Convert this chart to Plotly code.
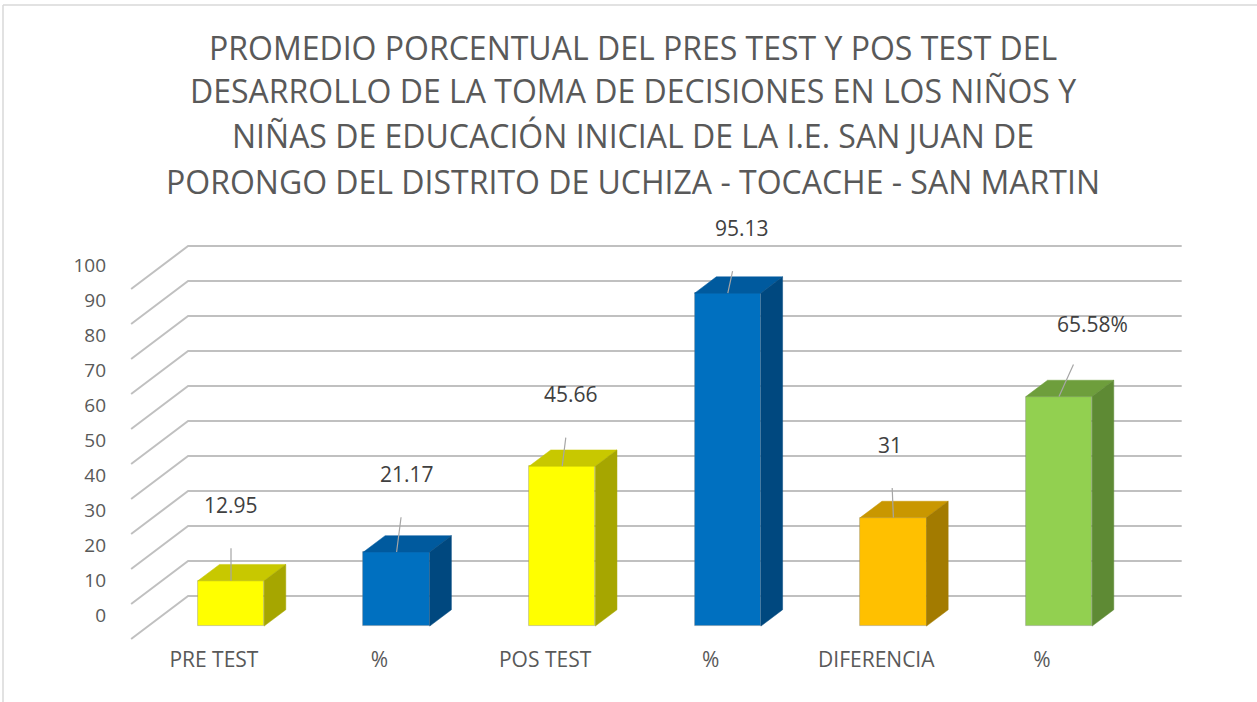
import plotly.graph_objects as go

# ---------------- data ----------------
categories = ["PRE TEST", "%", "POS TEST", "%", "DIFERENCIA", "%"]
values = [12.95, 21.17, 45.66, 95.13, 31, 65.58]
value_labels = ["12.95", "21.17", "45.66", "95.13", "31", "65.58%"]
y_ticks = [0, 10, 20, 30, 40, 50, 60, 70, 80, 90, 100]
title_lines = [
    "PROMEDIO PORCENTUAL DEL PRES TEST Y POS TEST DEL",
    "DESARROLLO DE LA TOMA DE DECISIONES EN LOS NIÑOS Y",
    "NIÑAS DE EDUCACIÓN INICIAL DE LA I.E. SAN JUAN DE",
    "PORONGO DEL DISTRITO DE UCHIZA - TOCACHE - SAN MARTIN",
]

# ---------------- styles ----------------
front_colors = ["#FFFF00", "#0070C0", "#FFFF00", "#0070C0", "#FFC000", "#92D050"]
top_colors = ["#C8C800", "#005A9E", "#C8C800", "#005A9E", "#C99700", "#6E9E3C"]
side_colors = ["#A6A600", "#00487F", "#A6A600", "#00487F", "#A37B00", "#5E8A34"]
label_offsets = [(0, -76), (10, -78), (9, -72), (14, -65), (-3, -73), (33, -73)]

FONT = "Open Sans"
W, H = 1257, 702
MB = 57
PH = H - MB
PX_PER_CAT = 165.6
PX_PER_UNIT = 3.5
X0_PX = 213.9
Y0_PX = 639.0
DX = 57.0 / PX_PER_CAT      # full floor depth, x (category units)
DY = 43.0 / PX_PER_UNIT     # full floor depth, y (value units)
D_FRONT = 0.30              # bar front face depth fraction
D_BAR = 0.38                # bar depth fraction
BAR_W = 0.40

n = len(categories)
xs = list(range(n))

fig = go.Figure()

# back wall gridlines + left wall diagonals (as shapes below traces)
shapes = []
for v in y_ticks:
    path = (f"M {-0.5} {v} L {-0.5 + DX} {v + DY} "
            f"L {n - 0.5 + DX} {v + DY}")
    shapes.append(dict(type="path", path=path, xref="x", yref="y",
                       line=dict(color="#C0C0C0", width=2), layer="below"))

# front faces as real bars
fig.add_trace(go.Bar(
    x=[x + D_FRONT * DX for x in xs], y=values, base=D_FRONT * DY,
    width=BAR_W, marker=dict(color=front_colors,
                             line=dict(color="rgba(120,120,120,0.45)", width=0.8)),
    hoverinfo="skip", showlegend=False))

# top and side faces
for i, v in enumerate(values):
    xl = xs[i] - BAR_W / 2 + D_FRONT * DX
    xr = xs[i] + BAR_W / 2 + D_FRONT * DX
    yb = D_FRONT * DY
    yt = v + D_FRONT * DY
    ddx, ddy = D_BAR * DX, D_BAR * DY
    fig.add_trace(go.Scatter(
        x=[xl, xr, xr + ddx, xl + ddx, xl], y=[yt, yt, yt + ddy, yt + ddy, yt],
        mode="lines", fill="toself", fillcolor=top_colors[i],
        line=dict(color=top_colors[i], width=0.5),
        hoverinfo="skip", showlegend=False))
    fig.add_trace(go.Scatter(
        x=[xr, xr + ddx, xr + ddx, xr, xr], y=[yb, yb + ddy, yt + ddy, yt, yb],
        mode="lines", fill="toself", fillcolor=side_colors[i],
        line=dict(color=side_colors[i], width=0.5),
        hoverinfo="skip", showlegend=False))

annotations = []
# data labels with leader lines
for i, v in enumerate(values):
    ax, ay = label_offsets[i]
    annotations.append(dict(
        x=xs[i] + D_FRONT * DX, y=v + D_FRONT * DY, xref="x", yref="y",
        text=value_labels[i], showarrow=True, arrowhead=0, arrowwidth=1.2,
        arrowcolor="#A6A6A6", ax=ax, ay=ay, startstandoff=28, standoff=0,
        font=dict(family=FONT, size=21, color="#404040")))

# title lines
title_centers_px = [47, 91, 135, 181]
for line, cy in zip(title_lines, title_centers_px):
    annotations.append(dict(
        x=633 / W, y=1 - cy / PH, xref="paper", yref="paper",
        xanchor="center", yanchor="middle", showarrow=False, text=line,
        font=dict(family=FONT, size=32, color="#595959")))

# outer chart border (top and left visible)
shapes.append(dict(type="line", xref="paper", yref="paper",
                   x0=3 / W, x1=1.01, y0=1 - 5 / PH, y1=1 - 5 / PH,
                   line=dict(color="#D9D9D9", width=1.5)))
shapes.append(dict(type="line", xref="paper", yref="paper",
                   x0=3 / W, x1=3 / W, y0=1 - 5 / PH, y1=-0.2,
                   line=dict(color="#D9D9D9", width=1.5)))

fig.update_layout(
    width=W, height=H,
    margin=dict(l=0, r=0, t=0, b=MB),
    paper_bgcolor="white", plot_bgcolor="white",
    shapes=shapes, annotations=annotations,
    showlegend=False, bargap=0,
    xaxis=dict(range=[-X0_PX / PX_PER_CAT, (W - X0_PX) / PX_PER_CAT],
               tickmode="array", tickvals=xs, ticktext=categories,
               showgrid=False, zeroline=False, showline=False, ticks="",
               tickfont=dict(family=FONT, size=21, color="#595959"),
               fixedrange=True),
    yaxis=dict(range=[-(PH - Y0_PX) / PX_PER_UNIT, Y0_PX / PX_PER_UNIT],
               tickmode="array", tickvals=[v + DY * 0.55 for v in y_ticks],
               ticktext=[str(v) for v in y_ticks],
               anchor="free", position=106 / W,
               showgrid=False, zeroline=False, showline=False, ticks="",
               tickfont=dict(family=FONT, size=19, color="#595959"),
               fixedrange=True),
)

fig.write_html("out.html", config={"displayModeBar": False},
               post_script="document.body.style.margin='0';")
